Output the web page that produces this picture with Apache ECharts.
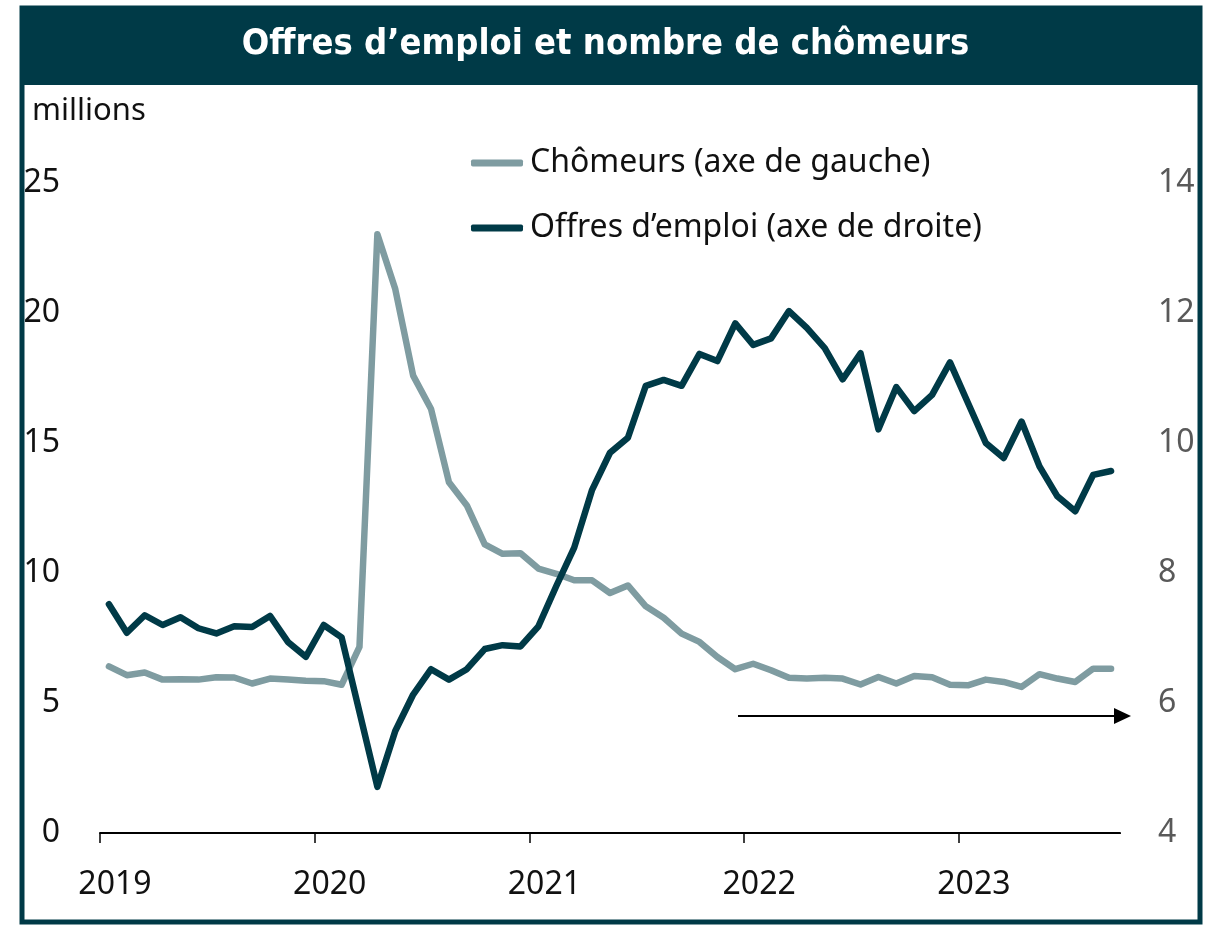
<!DOCTYPE html>
<html>
<head>
<meta charset="utf-8">
<script src="https://cdn.jsdelivr.net/npm/echarts@6/dist/echarts.min.js"></script>
<style>
  html, body { margin: 0; padding: 0; background: #fff; }
  #chart { width: 1211px; height: 925px; }
</style>
</head>
<body>
<div id="chart"></div>
<script>
// mois de janvier 2019 à septembre 2023
var years = ['2019', '2020', '2021', '2022', '2023'];
var months = [];
for (var y = 2019; y <= 2023; y++) {
  for (var m = 1; m <= 12; m++) {
    if (y === 2023 && m > 9) break;
    months.push(y + '-' + (m < 10 ? '0' + m : m));
  }
}

// chômeurs, millions (axe de gauche)
var chomeurs = [
  6.41, 6.07, 6.17, 5.90, 5.91, 5.90, 5.99, 5.98, 5.75, 5.94, 5.90, 5.86,
  5.84, 5.70, 7.16, 23.03, 20.92, 17.59, 16.31, 13.49, 12.60, 11.10, 10.74, 10.76,
  10.17, 9.97, 9.72, 9.72, 9.23, 9.52, 8.72, 8.28, 7.67, 7.35, 6.77, 6.30,
  6.51, 6.26, 5.97, 5.94, 5.97, 5.94, 5.71, 6.00, 5.75, 6.04, 5.99,
  5.70, 5.68, 5.90, 5.81, 5.62, 6.11, 5.94, 5.81, 6.32, 6.32
];

// offres d'emploi, millions (axe de droite)
var offres = [
  7.52, 7.08, 7.35, 7.20, 7.32, 7.15, 7.07, 7.18, 7.17, 7.34, 6.94, 6.71,
  7.20, 7.01, 5.86, 4.71, 5.57, 6.13, 6.52, 6.36, 6.52, 6.83, 6.89, 6.87,
  7.18, 7.80, 8.39, 9.28, 9.85, 10.08, 10.88, 10.97, 10.88, 11.37, 11.26, 11.84,
  11.51, 11.61, 12.03, 11.77, 11.46, 10.98, 11.38, 10.21, 10.86, 10.49, 10.74,
  11.24, 10.62, 10.00, 9.77, 10.33, 9.64, 9.18, 8.95, 9.51, 9.57
];

var dark = '#003a47';
var grey = '#7f9ca1';
var font = '"Noto Sans", "Open Sans", sans-serif';

var myChart = echarts.init(document.getElementById('chart'));
var option = {
  animation: false,
  backgroundColor: '#fff',
  title: {
    text: 'Offres d\u2019emploi et nombre de chômeurs',
    left: 'center',
    top: 22,
    textStyle: {
      color: '#fff',
      fontSize: 36,
      fontWeight: 'bold',
      fontFamily: '"Liberation Sans Narrow", "DejaVu Sans Condensed", Roboto, sans-serif'
    }
  },
  graphic: [
    { type: 'rect', z: -1, shape: { x: 22, y: 8, width: 1178, height: 914 },
      style: { fill: '#fff', stroke: dark, lineWidth: 5 } },
    { type: 'rect', z: 0, shape: { x: 22, y: 8, width: 1178, height: 77 },
      style: { fill: dark } },
    { type: 'text', left: 32, top: 96,
      style: { text: 'millions', fill: '#111', font: '31px ' + font } },
    // pas de graduation en fin d'axe
    { type: 'rect', z: 100, shape: { x: 1114, y: 834, width: 10, height: 14 },
      style: { fill: '#fff' } },
    { type: 'line', shape: { x1: 738, y1: 716, x2: 1118, y2: 716 },
      style: { stroke: '#000', lineWidth: 2 } },
    { type: 'polygon', shape: { points: [[1114, 708], [1131, 716], [1114, 724]] },
      style: { fill: '#000' } }
  ],
  legend: {
    orient: 'vertical',
    left: 466,
    top: 142,
    itemWidth: 52,
    itemHeight: 7,
    itemGap: 33,
    icon: 'roundRect',
    selectedMode: false,
    textStyle: { fontSize: 32, color: '#111', fontFamily: font, padding: [0, 0, 0, 2] },
    data: ['Chômeurs (axe de gauche)', 'Offres d\u2019emploi (axe de droite)']
  },
  grid: { left: 100, right: 91, top: 183, bottom: 92 },
  xAxis: {
    type: 'category',
    data: months,
    boundaryGap: true,
    axisLine: { lineStyle: { color: '#000', width: 2 } },
    axisTick: {
      show: true,
      interval: 11,
      length: 10,
      lineStyle: { color: '#000', width: 1.5 }
    },
    axisLabel: {
      interval: 11,
      formatter: function (v) { return v.slice(0, 4); },
      margin: 36,
      padding: [0, 0, 0, 12],
      fontSize: 32,
      color: '#111',
      fontFamily: font
    }
  },
  yAxis: [
    {
      type: 'value',
      min: 0, max: 25, interval: 5,
      axisLine: { show: false },
      axisTick: { show: false },
      splitLine: { show: false },
      axisLabel: { margin: 40, fontSize: 32, color: '#111', fontFamily: font }
    },
    {
      type: 'value',
      min: 4, max: 14, interval: 2,
      axisLine: { show: false },
      axisTick: { show: false },
      splitLine: { show: false },
      axisLabel: { margin: 38, fontSize: 32, color: '#595959', fontFamily: font }
    }
  ],
  series: [
    {
      name: 'Chômeurs (axe de gauche)',
      type: 'line',
      yAxisIndex: 0,
      data: chomeurs,
      color: grey,
      symbol: 'none',
      lineStyle: { width: 6.5, color: grey, cap: 'round', join: 'round' },
      z: 2
    },
    {
      name: 'Offres d\u2019emploi (axe de droite)',
      type: 'line',
      yAxisIndex: 1,
      data: offres,
      color: dark,
      symbol: 'none',
      lineStyle: { width: 6.5, color: dark, cap: 'round', join: 'round' },
      z: 3
    }
  ]
};
myChart.setOption(option);
</script>
</body>
</html>
